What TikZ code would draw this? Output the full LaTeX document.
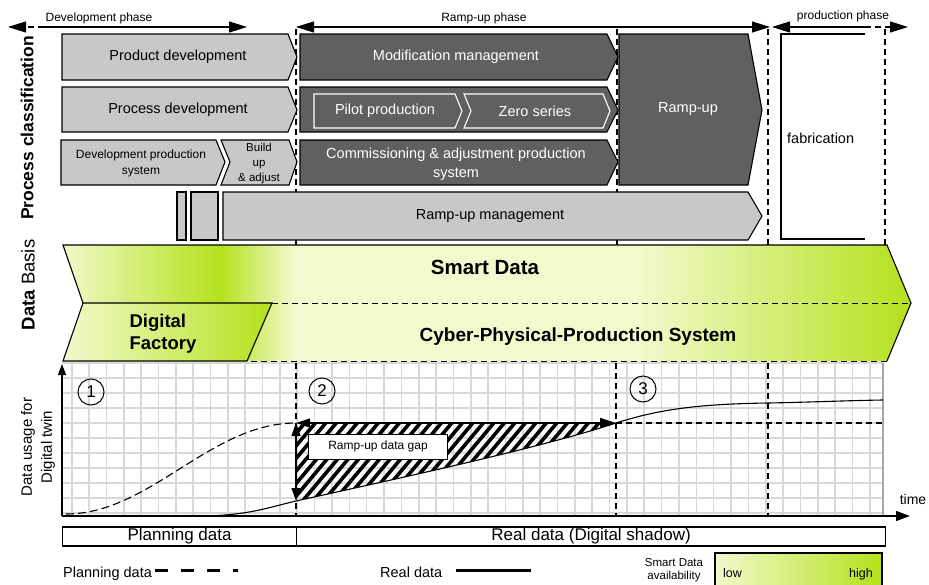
\documentclass[tikz,border=0pt]{standalone}
\usepackage{fontspec}
\setmainfont{Liberation Sans}
\usetikzlibrary{arrows.meta}
\definecolor{lgray}{HTML}{C8C8C8}
\definecolor{dgray}{HTML}{606060}
\definecolor{glight}{HTML}{F2F9CC}
\definecolor{ggreen}{HTML}{B4E11B}
\definecolor{gridc}{HTML}{D8D8D8}
\begin{document}
\begin{tikzpicture}[x=1pt,y=-1pt,line join=miter,
  every node/.style={inner sep=0pt},
  lbox/.style={fill=lgray,draw=black,line width=1.1pt},
  dbox/.style={fill=dgray,draw=black,line width=1.1pt},
  wbox/.style={draw=white,line width=1.1pt},
  vdash/.style={dash pattern=on 6pt off 4pt,line width=1.2pt},
  phase/.style={line width=1.1pt},
  bigtip/.style={-{Triangle[length=18pt,width=11pt]}},
  gridl/.style={draw=gridc,line width=1.6pt},
  hatchl/.style={line width=3.6pt,line cap=butt},
  f115/.style={font=\fontsize{11.5}{15}\selectfont},
  f12/.style={font=\fontsize{12}{14}\selectfont},
  f12a/.style={font=\fontsize{12}{16}\selectfont},
  f125/.style={font=\fontsize{12.5}{15}\selectfont},
  f145/.style={font=\fontsize{14.5}{19}\selectfont},
  f145w/.style={font=\fontsize{14.5}{19}\selectfont,text=white},
  f15/.style={font=\fontsize{15}{20}\selectfont},
  f17/.style={font=\fontsize{17}{20}\selectfont}]
\useasboundingbox (0,0) rectangle (929,584);
\begin{scope}
\clip (0,0) rectangle (929,584);

% ---------- phase arrows ----------
\coordinate (dL) at (8,27); \coordinate (dM) at (44,27); \coordinate (dR) at (247,27);
\draw[phase,dash pattern=on 6pt off 4pt,bigtip] (dM) -- (dL);
\draw[phase,bigtip] (dM) -- (dR);
\node[f12,anchor=base] (tdev) at (99,21) {Development phase};
\coordinate (rL) at (296,27); \coordinate (rR) at (770,27);
\draw[phase,{Triangle[length=18pt,width=11pt]}-{Triangle[length=18pt,width=11pt]}] (rL) -- (rR);
\node[f12,anchor=base] (tramp) at (484,21) {Ramp-up phase};
\coordinate (pL) at (772,27); \coordinate (pM) at (865,27); \coordinate (pR) at (908,27);
\draw[phase,{Triangle[length=18pt,width=11pt]}-] (pL) -- (pM);
\draw[phase,dash pattern=on 6pt off 4pt,bigtip] (pM) -- (pR);
\node[f12,anchor=base] (tprod) at (843,19) {production phase};

% ---------- vertical phase separators (top) ----------
\foreach \vx in {296,617,768,885}{
  \draw[vdash] (\vx,29) -- (\vx,245);
}

% ---------- left labels ----------
\node[rotate=90,font=\fontsize{17.5}{20}\bfseries\selectfont] (lpc) at (27,128) {Process classification};
\node[rotate=90,font=\fontsize{18.5}{20}\selectfont] (ldb) at (28,285) {\textbf{Data} Basis};

% ---------- process boxes ----------
\draw[lbox] (62,34) -- (288,34) -- (297,57) -- (288,80) -- (62,80) -- cycle;
\node[f145] (tpd) at (178,57) {Product development};
\draw[lbox] (62,87) -- (288,87) -- (297,110) -- (288,132) -- (62,132) -- cycle;
\node[f145] (tpr) at (178,110) {Process development};
\draw[lbox] (61,140) -- (216,140) -- (225,162) -- (216,185) -- (61,185) -- cycle;
\node[f12a,align=center] (tdps) at (141,163) {Development production\\system};
\draw[lbox] (221,140) -- (289,140) -- (297,162) -- (289,185) -- (221,185) -- (230,162) -- cycle;
\node[f115,align=center] (tbu) at (259,164) {Build\\up\\\& adjust};

\draw[dbox] (300,34) -- (607,34) -- (618,57) -- (607,80) -- (300,80) -- cycle;
\node[f145w] (tmm) at (456,57) {Modification management};
\draw[dbox] (300,87) -- (607,87) -- (618,110) -- (607,132) -- (300,132) -- cycle;
\draw[wbox] (314,94) -- (455,94) -- (462,111) -- (455,128) -- (314,128) -- cycle;
\node[f145w] (tpp) at (385,111) {Pilot production};
\draw[wbox] (464,94) -- (603,94) -- (610,111) -- (603,128) -- (464,128) -- (471,111) -- cycle;
\node[f145w] (tzs) at (535,111) {Zero series};
\draw[dbox] (300,140) -- (607,140) -- (618,162) -- (607,185) -- (300,185) -- cycle;
\node[f145w,align=center] (tcom) at (456,164) {Commissioning \& adjustment production\\system};
\draw[dbox] (619,34) -- (748,34) -- (762,110) -- (748,185) -- (619,185) -- cycle;
\node[f145w] (tru) at (688,109) {Ramp-up};

\draw[lbox] (177,192) rectangle (186,240);
\draw[lbox] (191,192) rectangle (218,240);
\draw[lbox] (223,192) -- (748,192) -- (762,216) -- (748,240) -- (223,240) -- cycle;
\node[f145] (trm) at (490,216) {Ramp-up management};

\draw[line width=1.1pt] (865,34) -- (781,34) -- (781,239) -- (865,239);
\node[f145,anchor=west] (tfab) at (787,138) {fabrication};

% ---------- data basis ----------
\begin{scope}
\clip (63,245) -- (887,245) -- (911,303) -- (887,361) -- (63,361) -- (83,303) -- cycle;
\shade[left color=glight,right color=ggreen] (60,240) rectangle (221,366);
\shade[left color=ggreen,right color=glight] (220,240) rectangle (293,366);
\fill[glight] (292,240) rectangle (641,366);
\shade[left color=glight,right color=ggreen] (640,240) rectangle (912,366);
\end{scope}
\draw[line width=1.1pt] (83,303) -- (63,245) -- (887,245) -- (911,303) -- (887,361);
\draw[line width=1pt,dash pattern=on 6pt off 4pt] (887,361) -- (247,361);
\draw[line width=1.1pt,left color=glight,right color=ggreen] (83,303) -- (272,303) -- (247,361) -- (63,361) -- cycle;
\draw[line width=1pt,dash pattern=on 6pt off 4pt] (272,303) -- (911,303);
\node[font=\fontsize{20.5}{22}\bfseries\selectfont,anchor=base] (tsd) at (485,274) {Smart Data};
\node[font=\fontsize{19}{22}\bfseries\selectfont,anchor=base] (tcpps) at (578,341) {Cyber-Physical-Production System};
\node[font=\fontsize{18.5}{22}\bfseries\selectfont,align=left] (tdf) at (163,334) {Digital\\Factory};

% ---------- chart grid ----------
\foreach \i in {0,...,46}{
  \draw[gridl] ({71.7+17.35*\i},363) -- ({71.7+17.35*\i},516);
}
\foreach \j in {0,...,10}{
  \draw[gridl] (62,{363+15*\j}) -- (883,{363+15*\j});
}
\draw[draw=gray!70,line width=1.2pt] (883,363) -- (883,516);

\foreach \vx in {296,616,768}{
  \draw[vdash] (\vx,363) -- (\vx,516);
}

\node[rotate=90,f15,align=center] (ylab) at (38,447) {Data usage for\\Digital twin};

% circled numbers
\node[circle,draw,line width=1pt,minimum size=26pt,f17] (c1) at (91,392) {1};
\node[circle,draw,line width=1pt,minimum size=26pt,f17] (c2) at (322,391) {2};
\node[circle,draw,line width=1pt,minimum size=26pt,f17] (c3) at (643,389) {3};

% hatched gap (stripes rising to the right)
\begin{scope}
\clip (296,423) -- (616,423) .. controls (540,448) and (400,478) .. (296,501) -- cycle;
\foreach \s in {190,200.5,...,640}{
  \draw[hatchl] (\s,510) -- ({\s+92},400);
}
\end{scope}

% curves
\draw[line width=1.1pt,dash pattern=on 8pt off 4pt] (66,514) .. controls (150,514) and (210,423) .. (296,423);
\draw[line width=1.1pt] (205,516) .. controls (250,515) and (270,507) .. (296,501) .. controls (400,478) and (540,448) .. (616,423) .. controls (660,409) and (700,404) .. (768,403) .. controls (800,402.5) and (850,400.5) .. (883,400);

\coordinate (g1) at (296,423); \coordinate (g2) at (616,423); \coordinate (g3) at (296,501); \coordinate (g4) at (883,423);
\draw[vdash] (g2) -- (g4);
\draw[line width=1.3pt,{Triangle[length=13pt,width=9pt]}-{Triangle[length=13pt,width=9pt]}] (g1) -- (g3);
\draw[line width=1.3pt,{Triangle[length=14pt,width=9pt]}-{Triangle[length=16pt,width=10pt]}] (g1) -- (g2);

\node[draw,fill=white,line width=1pt,minimum width=139pt,minimum height=25pt,f12] (gap) at (378,446.5) {Ramp-up data gap};

% axes
\coordinate (o) at (62,516); \coordinate (ytop) at (62,364); \coordinate (xr) at (910,516);
\draw[line width=1.2pt,-{Triangle[length=11pt,width=8pt]}] (o) -- (ytop);
\draw[line width=1.2pt,-{Triangle[length=14pt,width=10pt]}] (o) -- (xr);
\node[font=\fontsize{14}{16}\selectfont,anchor=base] (ttime) at (913,504) {time};

% bottom bar
\node[draw,line width=1.2pt,minimum width=234pt,minimum height=19pt,anchor=west,f17] (bp) at (62,536.5) {Planning data};
\node[draw,line width=1.2pt,minimum width=589pt,minimum height=19pt,anchor=west,f17] (br) at (296,536.5) {Real data (Digital shadow)};

% legend
\node[f145,anchor=base west] (lgp) at (63,577) {Planning data};
\coordinate (lp1) at (155,570); \coordinate (lp2) at (238,570);
\draw[line width=3pt,dash pattern=on 13pt off 13pt] (lp1) -- (lp2);
\node[f145,anchor=base west] (lgr) at (380,577) {Real data};
\coordinate (lr1) at (456,570); \coordinate (lr2) at (531,570);
\draw[line width=3pt] (lr1) -- (lr2);
\node[font=\fontsize{11.5}{12.5}\selectfont,align=center] (sda) at (674,570) {Smart Data\\availability};
\draw[line width=1.1pt,left color=glight,right color=ggreen] (715,553) rectangle (882,595);
\node[f125,anchor=base west] (tlow) at (723,577) {low};
\node[f125,anchor=base east] (thigh) at (873,577) {high};
\end{scope}
\end{tikzpicture}
\end{document}
